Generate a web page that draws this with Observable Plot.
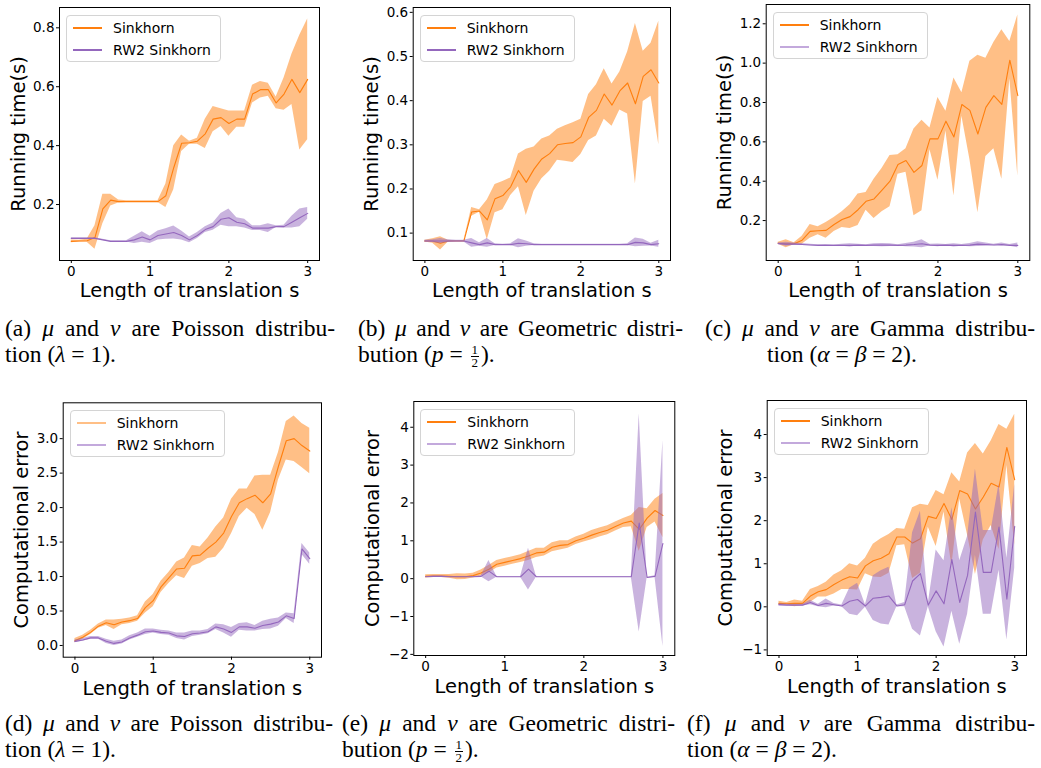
<!DOCTYPE html>
<html>
<head>
<meta charset="utf-8">
<script src="https://cdn.jsdelivr.net/npm/d3@7"></script>
<script src="https://cdn.jsdelivr.net/npm/@observablehq/plot@0.6"></script>
<style>
  html, body { margin: 0; padding: 0; background: #fff; }
  #root { position: relative; width: 1041px; height: 768px; background: #fff; overflow: hidden; }
  .panel { position: absolute; }
  .panel svg { display: block; }
  .legend { position: absolute; box-sizing: border-box; width: 155px; height: 47px; border: 1px solid #d4d4d4; border-radius: 4px; background: rgba(255,255,255,0.8); font-family: "DejaVu Sans"; font-size: 14px; color: #000; }
  .legend .sw { position: absolute; left: 6px; width: 29px; height: 1.5px; }
  .legend .lb { position: absolute; left: 46px; line-height: 16px; white-space: nowrap; }
  .cap { position: absolute; font-family: "Liberation Serif", "Times New Roman", serif; font-size: 23.5px; line-height: 26px; color: #000; white-space: nowrap; }
  .cap .l1 { text-align: justify; text-align-last: justify; white-space: normal; }
  .cap i { font-style: italic; }
  .frac { display: inline-flex; flex-direction: column; vertical-align: 8px; font-size: 13px; line-height: 12px; text-align: center; margin: 0 2px; }
  .frac .n { border-bottom: 1px solid #000; padding: 0 1px; }
</style>
</head>
<body>
<div id="root"></div>
<script>
// ---------- data ----------
const xValues = [0,0.1,0.2,0.3,0.4,0.5,0.6,0.7,0.8,0.9,1.0,1.1,1.2,1.3,1.4,1.5,1.6,1.7,1.8,1.9,2.0,2.1,2.2,2.3,2.4,2.5,2.6,2.7,2.8,2.9,3.0];
const xTicks = [0, 1, 2, 3];
const seriesNames = ["Sinkhorn", "RW2 Sinkhorn"];
const xLabel = "Length of translation s";
const yLabels = ["Running time(s)", "Computational error"];

// (a) Poisson, running time
const aSinkMean = [0.075,0.076,0.077,0.088,0.185,0.215,0.21,0.21,0.21,0.21,0.21,0.21,0.23,0.325,0.408,0.41,0.415,0.44,0.49,0.495,0.475,0.49,0.49,0.575,0.59,0.59,0.545,0.575,0.625,0.58,0.625];
const aSinkSd   = [0.005,0.003,0.005,0.04,0.05,0.02,0.005,0.003,0.003,0.003,0.003,0.003,0.04,0.075,0.028,0.005,0.01,0.05,0.043,0.03,0.043,0.028,0.028,0.03,0.028,0.022,0.02,0.055,0.085,0.195,0.205];
const aRW2Mean  = [0.085,0.085,0.085,0.085,0.08,0.075,0.075,0.075,0.08,0.09,0.08,0.095,0.1,0.105,0.095,0.08,0.095,0.115,0.125,0.15,0.155,0.14,0.135,0.12,0.12,0.12,0.125,0.125,0.14,0.155,0.17];
const aRW2Sd    = [0.002,0.002,0.002,0.002,0.002,0.002,0.002,0.002,0.012,0.018,0.012,0.015,0.018,0.022,0.015,0.01,0.01,0.01,0.012,0.02,0.03,0.015,0.015,0.008,0.008,0.015,0.003,0.005,0.02,0.03,0.02];
const aYTicks = [0.2, 0.4, 0.6, 0.8];

// (b) Geometric, running time
const bSinkMean = [0.082,0.082,0.077,0.082,0.082,0.082,0.148,0.15,0.13,0.178,0.185,0.205,0.242,0.215,0.245,0.268,0.28,0.3,0.303,0.305,0.318,0.362,0.378,0.415,0.39,0.422,0.44,0.393,0.455,0.47,0.44];
const bSinkSd   = [0.002,0.005,0.015,0.002,0.001,0.001,0.01,0.003,0.045,0.032,0.032,0.02,0.037,0.075,0.05,0.045,0.04,0.035,0.04,0.045,0.04,0.052,0.058,0.057,0.048,0.043,0.07,0.182,0.057,0.06,0.14];
const bRW2Mean  = [0.082,0.082,0.082,0.082,0.082,0.082,0.078,0.074,0.078,0.074,0.074,0.074,0.077,0.076,0.074,0.074,0.074,0.074,0.074,0.074,0.074,0.074,0.074,0.074,0.074,0.074,0.074,0.079,0.078,0.074,0.076];
const bRW2Sd    = [0.002,0.003,0.006,0.003,0.002,0.002,0.01,0.004,0.01,0.002,0.001,0.002,0.01,0.006,0.002,0.001,0.001,0.001,0.001,0.001,0.001,0.001,0.001,0.001,0.001,0.001,0.002,0.01,0.008,0.003,0.008];
const bYTicks = [0.1, 0.2, 0.3, 0.4, 0.5, 0.6];

// (c) Gamma, running time
const cSinkMean = [0.085,0.082,0.082,0.1,0.145,0.148,0.15,0.18,0.205,0.22,0.255,0.298,0.31,0.355,0.4,0.485,0.505,0.445,0.48,0.615,0.615,0.705,0.625,0.79,0.76,0.64,0.775,0.835,0.79,1.015,0.835];
const cSinkSd   = [0.005,0.02,0.005,0.02,0.035,0.02,0.04,0.035,0.04,0.06,0.08,0.045,0.1,0.11,0.13,0.05,0.06,0.22,0.23,0.055,0.21,0.05,0.3,0.06,0.25,0.4,0.25,0.27,0.38,0.095,0.41];
const cRW2Mean  = [0.083,0.08,0.08,0.078,0.076,0.074,0.074,0.074,0.074,0.074,0.075,0.074,0.075,0.075,0.075,0.074,0.075,0.078,0.082,0.075,0.074,0.075,0.074,0.074,0.075,0.08,0.078,0.076,0.078,0.074,0.074];
const cRW2Sd    = [0.003,0.01,0.006,0.005,0.004,0.003,0.004,0.002,0.005,0.008,0.004,0.003,0.007,0.008,0.007,0.003,0.008,0.012,0.02,0.004,0.007,0.003,0.008,0.004,0.008,0.012,0.008,0.004,0.008,0.004,0.012];
const cYTicks = [0.2, 0.4, 0.6, 0.8, 1.0, 1.2];

// (d) Poisson, computational error
const dSinkMean = [0.07,0.12,0.19,0.28,0.33,0.3,0.34,0.36,0.39,0.55,0.65,0.85,0.98,1.11,1.12,1.3,1.31,1.41,1.5,1.63,1.87,2.07,2.13,2.18,2.07,2.2,2.6,2.97,3.0,2.9,2.82];
const dSinkSd   = [0.03,0.03,0.03,0.03,0.04,0.07,0.04,0.04,0.04,0.08,0.09,0.08,0.08,0.1,0.15,0.15,0.12,0.15,0.22,0.22,0.25,0.2,0.14,0.28,0.4,0.27,0.2,0.28,0.33,0.32,0.33];
const dRW2Mean  = [0.06,0.08,0.11,0.11,0.06,0.03,0.05,0.11,0.15,0.2,0.21,0.19,0.18,0.14,0.13,0.17,0.18,0.2,0.27,0.24,0.19,0.27,0.27,0.25,0.29,0.31,0.34,0.43,0.39,1.4,1.26];
const dRW2Sd    = [0.02,0.02,0.02,0.02,0.03,0.03,0.03,0.03,0.03,0.04,0.03,0.03,0.03,0.04,0.05,0.04,0.03,0.03,0.04,0.06,0.07,0.05,0.06,0.04,0.06,0.07,0.06,0.04,0.07,0.08,0.08];
const dYTicks = [0.0, 0.5, 1.0, 1.5, 2.0, 2.5, 3.0];

// (e) Geometric, computational error
const eSinkMean = [0.06,0.07,0.07,0.06,0.05,0.05,0.08,0.15,0.25,0.38,0.43,0.48,0.53,0.6,0.68,0.7,0.83,0.88,0.9,1.0,1.07,1.15,1.22,1.28,1.38,1.47,1.52,1.3,1.6,1.8,1.67];
const eSinkSd   = [0.04,0.04,0.04,0.05,0.08,0.07,0.06,0.08,0.1,0.1,0.1,0.1,0.1,0.12,0.12,0.1,0.12,0.12,0.1,0.1,0.1,0.12,0.12,0.12,0.12,0.12,0.15,0.58,0.25,0.3,0.58];
const eRW2Mean  = [0.05,0.06,0.06,0.05,0.05,0.05,0.05,0.06,0.2,0.05,0.05,0.05,0.05,0.25,0.05,0.05,0.05,0.05,0.05,0.05,0.05,0.05,0.05,0.05,0.05,0.05,0.05,1.47,0.03,0.06,0.93];
const eRW2Sd    = [0.01,0.01,0.01,0.01,0.01,0.01,0.01,0.01,0.28,0.01,0.01,0.01,0.01,0.55,0.01,0.01,0.01,0.01,0.01,0.01,0.01,0.01,0.01,0.01,0.01,0.01,0.01,2.88,0.01,0.02,2.72];
const eYTicks = [-2, -1, 0, 1, 2, 3, 4];

// (f) Gamma, computational error
const fSinkMean = [0.08,0.07,0.08,0.08,0.25,0.35,0.4,0.52,0.62,0.7,0.67,0.95,1.07,1.13,1.23,1.62,1.62,1.48,1.58,2.1,2.05,2.4,2.03,2.7,2.62,2.27,2.55,2.87,2.78,3.7,2.95];
const fSinkSd   = [0.05,0.03,0.08,0.05,0.15,0.12,0.17,0.22,0.22,0.3,0.28,0.18,0.38,0.45,0.45,0.2,0.18,0.82,0.8,0.25,0.65,0.2,1.08,0.2,0.95,1.52,1.0,0.98,1.45,0.42,1.52];
const fRW2Mean  = [0.05,0.04,0.04,0.04,0.1,0.03,0.08,0.05,0.02,0.13,0.17,0.02,0.2,0.22,0.25,0.02,0.05,0.6,0.77,0.04,0.37,0.07,1.1,0.1,0.73,2.2,0.8,0.8,1.85,0.18,1.87];
const fRW2Sd    = [0.03,0.02,0.02,0.02,0.05,0.03,0.1,0.03,0.02,0.3,0.38,0.03,0.52,0.62,0.67,0.02,0.05,1.12,1.45,0.04,0.95,1.0,1.2,0.97,0.9,1.0,0.97,0.97,1.0,0.95,0.97];
const fYTicks = [-1, 0, 1, 2, 3, 4];

const captionLines = [
  ['(a) <i>μ</i> and <i>ν</i> are Poisson distribu-', 'tion (<i>λ</i> = 1).'],
  ['(b) <i>μ</i> and <i>ν</i> are Geometric distri-', 'bution (<i>p</i> = <span class="frac"><span class="n">1</span><span>2</span></span>).'],
  ['(c) <i>μ</i> and <i>ν</i> are Gamma distribu-', 'tion (<i>α</i> = <i>β</i> = 2).'],
  ['(d) <i>μ</i> and <i>ν</i> are Poisson distribu-', 'tion (<i>λ</i> = 1).'],
  ['(e) <i>μ</i> and <i>ν</i> are Geometric distri-', 'bution (<i>p</i> = <span class="frac"><span class="n">1</span><span>2</span></span>).'],
  ['(f) <i>μ</i> and <i>ν</i> are Gamma distribu-', 'tion (<i>α</i> = <i>β</i> = 2).']
];

// ---------- styling / layout ----------
const ORANGE = "#ff7f0e", PURPLE = "#9467bd";
const ORANGE_LIGHT = "#ffbf86", PURPLE_LIGHT = "#c3a9dc";

const panels = [
  {left: 0,   top: 0,   w: 340, h: 300, ml: 59,   mr: 21,   mt: 7,   mb: 40, yDomain: [0.010, 0.869], yTicks: aYTicks, fmt: ".1f", yLabel: yLabels[0], s: [aSinkMean, aSinkSd], r: [aRW2Mean, aRW2Sd], leg: [ORANGE, PURPLE], xlOff: 36},
  {left: 345, top: 0,   w: 340, h: 300, ml: 67.7, mr: 15,   mt: 7,   mb: 40, yDomain: [0.038, 0.611], yTicks: bYTicks, fmt: ".1f", yLabel: yLabels[0], s: [bSinkMean, bSinkSd], r: [bRW2Mean, bRW2Sd], leg: [ORANGE, PURPLE], xlOff: 36},
  {left: 695, top: 0,   w: 346, h: 300, ml: 70.7, mr: 11.7, mt: 4,   mb: 40, yDomain: [-0.003, 1.298], yTicks: cYTicks, fmt: ".1f", yLabel: yLabels[0], s: [cSinkMean, cSinkSd], r: [cRW2Mean, cRW2Sd], leg: [ORANGE, PURPLE_LIGHT], xlOff: 36},
  {left: 0,   top: 395, w: 340, h: 305, ml: 62.7, mr: 19,   mt: 7.3, mb: 43.3, yDomain: [-0.17, 3.52], yTicks: dYTicks, fmt: ".1f", yLabel: yLabels[1], s: [dSinkMean, dSinkSd], r: [dRW2Mean, dRW2Sd], leg: [ORANGE_LIGHT, PURPLE_LIGHT], xlOff: 37.5},
  {left: 345, top: 395, w: 340, h: 305, ml: 68.3, mr: 10.7, mt: 6,   mb: 45, yDomain: [-2.03, 4.68], yTicks: eYTicks, fmt: "d", yLabel: yLabels[1], s: [eSinkMean, eSinkSd], r: [eRW2Mean, eRW2Sd], leg: [ORANGE, PURPLE_LIGHT], xlOff: 37.5},
  {left: 695, top: 395, w: 346, h: 305, ml: 71.7, mr: 15,   mt: 5,   mb: 45, yDomain: [-1.13, 4.79], yTicks: fYTicks, fmt: "d", yLabel: yLabels[1], s: [fSinkMean, fSinkSd], r: [fRW2Mean, fRW2Sd], leg: [ORANGE, PURPLE_LIGHT], xlOff: 37.5}
];

const captionPos = [
  {left: 5,   top: 314.7, width: 330, l2: 5},
  {left: 358, top: 314.7, width: 325, l2: 358},
  {left: 705, top: 314.7, width: 330, l2: 767},
  {left: 5,   top: 710,   width: 328, l2: 5},
  {left: 342, top: 710,   width: 333, l2: 342},
  {left: 687, top: 710,   width: 348, l2: 687}
];

const root = document.getElementById("root");

function rows(mean, sd) {
  return xValues.map((x, i) => ({x, m: mean[i], lo: mean[i] - sd[i], hi: mean[i] + sd[i]}));
}

panels.forEach((p) => {
  const s = rows(p.s[0], p.s[1]);
  const r = rows(p.r[0], p.r[1]);
  const chart = Plot.plot({
    width: p.w, height: p.h,
    marginLeft: p.ml, marginRight: p.mr, marginTop: p.mt, marginBottom: p.mb,
    style: {fontFamily: "DejaVu Sans", fontSize: "13.5px", color: "#000", background: "transparent"},
    x: {domain: [-0.15, 3.15]},
    y: {domain: p.yDomain},
    marks: [
      Plot.areaY(s, {x: "x", y1: "lo", y2: "hi", fill: ORANGE, fillOpacity: 0.5, clip: true}),
      Plot.lineY(s, {x: "x", y: "m", stroke: ORANGE, strokeWidth: 1.1, clip: true}),
      Plot.areaY(r, {x: "x", y1: "lo", y2: "hi", fill: PURPLE, fillOpacity: 0.5, clip: true}),
      Plot.lineY(r, {x: "x", y: "m", stroke: PURPLE, strokeWidth: 1.1, clip: true}),
      Plot.axisX({ticks: xTicks, tickFormat: d3.format("d"), tickSize: 3, tickPadding: 3, label: null}),
      Plot.axisY({ticks: p.yTicks, tickFormat: d3.format(p.fmt), tickSize: 3, tickPadding: 2, label: null}),
      Plot.frame({stroke: "#000", strokeWidth: 1}),
      Plot.text([xLabel], {text: d => d, frameAnchor: "bottom", textAnchor: "middle", lineAnchor: "bottom", dy: p.xlOff, fontSize: 19.5}),
      Plot.text([p.yLabel], {text: d => d, frameAnchor: "left", textAnchor: "middle", rotate: -90, dx: -41, lineAnchor: "middle", fontSize: 19.5})
    ]
  });
  const div = document.createElement("div");
  div.className = "panel";
  div.style.left = p.left + "px";
  div.style.top = p.top + "px";
  div.appendChild(chart);

  const leg = document.createElement("div");
  leg.className = "legend";
  leg.style.left = (p.ml + 7) + "px";
  leg.style.top = (p.mt + 8) + "px";
  leg.innerHTML =
    `<div class="sw" style="top:11px;background:${p.leg[0]}"></div><div class="lb" style="top:4px">${seriesNames[0]}</div>` +
    `<div class="sw" style="top:33px;background:${p.leg[1]}"></div><div class="lb" style="top:26px">${seriesNames[1]}</div>`;
  div.appendChild(leg);
  root.appendChild(div);
});

captionLines.forEach((lines, i) => {
  const c = captionPos[i];
  const d1 = document.createElement("div");
  d1.className = "cap";
  d1.style.left = c.left + "px";
  d1.style.top = c.top + "px";
  d1.style.width = c.width + "px";
  d1.innerHTML = `<div class="l1">${lines[0]}</div>`;
  root.appendChild(d1);
  const d2 = document.createElement("div");
  d2.className = "cap";
  d2.style.left = c.l2 + "px";
  d2.style.top = (c.top + 26) + "px";
  d2.innerHTML = lines[1];
  root.appendChild(d2);
});
</script>
</body>
</html>
